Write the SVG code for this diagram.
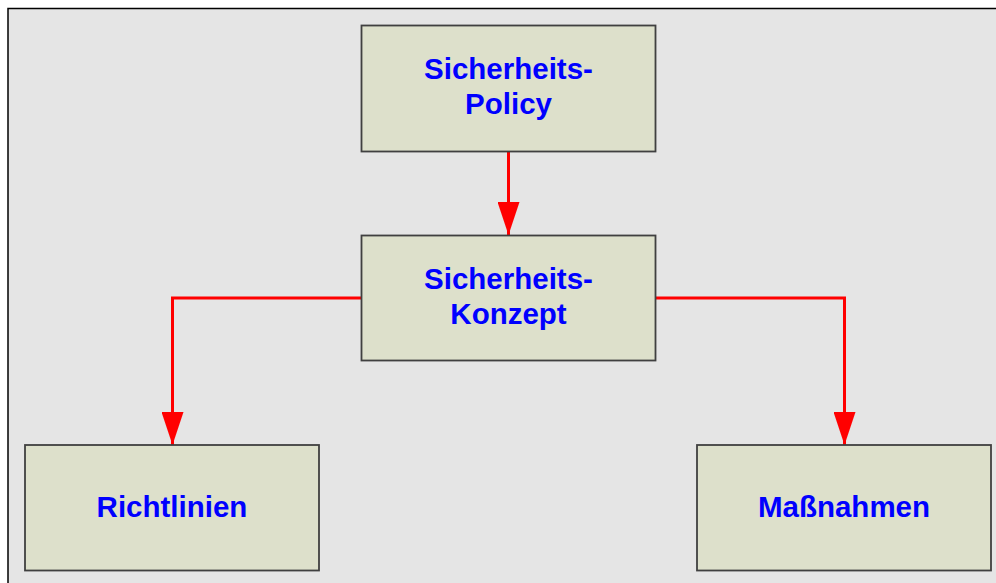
<svg xmlns="http://www.w3.org/2000/svg" width="996" height="583" viewBox="0 0 996 583">
<defs>
<style>
.box{fill:#dde0cb;stroke:#404040;stroke-width:1.8}
.t{font-family:"Liberation Sans",Arial,sans-serif;font-weight:bold;font-size:29.5px;fill:#0000ff;text-anchor:middle}
.c{fill:none;stroke:#ff0000;stroke-width:3}
</style>
<marker id="ah" markerUnits="userSpaceOnUse" viewBox="0 0 33 22" refX="33" refY="11" markerWidth="33" markerHeight="22" orient="auto">
<path d="M0,0 L33,11 L0,22 Z" fill="#ff0000"/>
</marker>
</defs>
<rect x="0" y="0" width="996" height="583" fill="#ffffff"/>
<rect x="8" y="8.5" width="996" height="600" fill="#e5e5e5" stroke="#000" stroke-width="1.5"/>
<g id="connectors">
<path class="c" d="M508.5,151 V235" marker-end="url(#ah)"/>
<path class="c" d="M361,298 H172.5 V445" marker-end="url(#ah)"/>
<path class="c" d="M655,298 H844.5 V445" marker-end="url(#ah)"/>
</g>
<g id="policy">
<rect class="box" x="361.5" y="25.5" width="294" height="126"/>
<text class="t" x="508.5" y="79">Sicherheits-</text>
<text class="t" x="508.5" y="114">Policy</text>
</g>
<g id="konzept">
<rect class="box" x="361.5" y="235.5" width="294" height="125"/>
<text class="t" x="508.5" y="289">Sicherheits-</text>
<text class="t" x="508.5" y="324">Konzept</text>
</g>
<g id="richtlinien">
<rect class="box" x="25" y="445" width="294" height="125.5"/>
<text class="t" x="172" y="517">Richtlinien</text>
</g>
<g id="massnahmen">
<rect class="box" x="697" y="445" width="294" height="125.5"/>
<text class="t" x="844" y="517">Maßnahmen</text>
</g>
</svg>
